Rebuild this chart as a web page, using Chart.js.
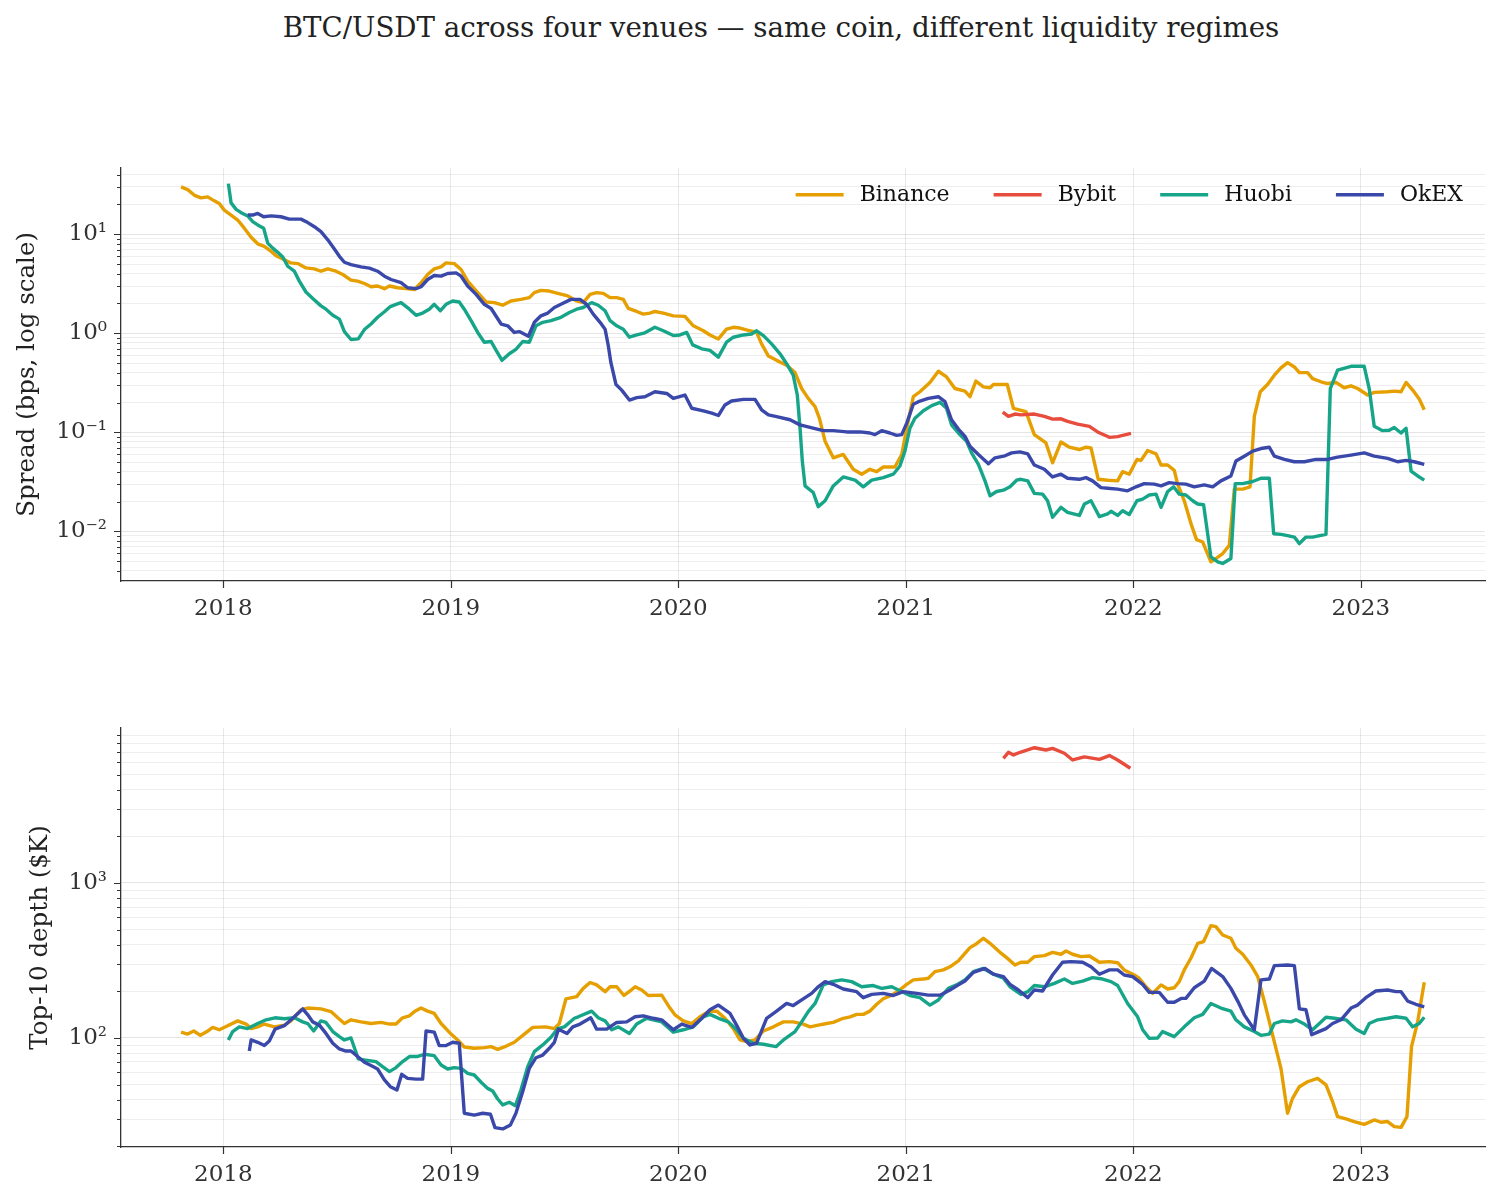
<!DOCTYPE html>
<html>
<head>
<meta charset="utf-8">
<script src="https://cdn.jsdelivr.net/npm/chart.js@4.4.1/dist/chart.umd.min.js"></script>
<style>
  body { margin: 0; background: #fff; overflow: hidden; }
  #page { position: relative; width: 1500px; height: 1203px; font-family: 'DejaVu Serif', serif; }
  #title { position: absolute; top: 12px; left: 131px; width: 1300px; line-height: 32px; text-align: center; font-size: 27.7px; color: #222; }
  canvas { position: absolute; left: 0; }
</style>
</head>
<body>
<div id="page">
  <div id="title">BTC/USDT across four venues — same coin, different liquidity regimes</div>
  <canvas id="spreadChart" width="1500" height="500" style="top:140px"></canvas>
  <canvas id="depthChart" width="1500" height="513" style="top:690px"></canvas>
</div>
<script>
// venues, in legend order
var venues = ['Binance', 'Bybit', 'Huobi', 'OkEX'];
var colors = ['#E69F00', '#E74C3C', '#17A589', '#3A48AA'];
var years = [2018, 2019, 2020, 2021, 2022, 2023];

// ---- spread (bps), x in decimal years ----
var spreadBinanceT = [2017.814,2017.843,2017.873,2017.902,2017.931,2017.960,2017.982,2018.004,2018.034,2018.063,2018.092,2018.122,2018.151,2018.180,2018.210,2018.232,2018.268,2018.297,2018.327,2018.363,2018.400,2018.429,2018.459,2018.495,2018.525,2018.561,2018.590,2018.620,2018.649,2018.678,2018.708,2018.730,2018.766,2018.803,2018.840,2018.869,2018.898,2018.927,2018.957,2018.979,2019.015,2019.045,2019.074,2019.118,2019.155,2019.191,2019.228,2019.264,2019.308,2019.345,2019.367,2019.396,2019.433,2019.470,2019.514,2019.553,2019.582,2019.612,2019.641,2019.670,2019.700,2019.729,2019.758,2019.780,2019.817,2019.846,2019.875,2019.897,2019.934,2019.978,2020.029,2020.066,2020.110,2020.139,2020.176,2020.212,2020.242,2020.271,2020.315,2020.344,2020.366,2020.396,2020.432,2020.476,2020.513,2020.542,2020.571,2020.601,2020.620,2020.645,2020.681,2020.725,2020.769,2020.806,2020.842,2020.872,2020.901,2020.952,2020.982,2021.004,2021.033,2021.062,2021.106,2021.143,2021.179,2021.216,2021.260,2021.282,2021.308,2021.341,2021.370,2021.385,2021.446,2021.473,2021.528,2021.565,2021.616,2021.645,2021.682,2021.719,2021.763,2021.792,2021.814,2021.846,2021.887,2021.931,2021.953,2021.982,2022.016,2022.034,2022.063,2022.100,2022.122,2022.151,2022.180,2022.195,2022.224,2022.256,2022.278,2022.305,2022.341,2022.363,2022.393,2022.422,2022.444,2022.481,2022.513,2022.532,2022.558,2022.590,2022.620,2022.649,2022.678,2022.708,2022.730,2022.766,2022.788,2022.825,2022.854,2022.891,2022.927,2022.957,2022.986,2023.030,2023.059,2023.118,2023.147,2023.177,2023.199,2023.228,2023.257,2023.279];
var spreadBinance = [30.0,28.2,24.7,23.3,23.8,21.7,20.4,17.5,15.6,13.9,11.5,9.33,8.0,7.53,6.71,6.07,5.53,5.13,5.05,4.57,4.47,4.23,4.47,4.23,3.92,3.44,3.36,3.18,2.95,3.0,2.82,3.0,2.88,2.82,2.77,3.24,3.92,4.47,4.68,5.13,5.05,4.40,3.36,2.57,2.07,2.04,1.92,2.12,2.20,2.29,2.57,2.71,2.67,2.53,2.38,2.12,2.04,2.47,2.57,2.53,2.29,2.29,2.20,1.78,1.66,1.56,1.60,1.66,1.60,1.50,1.48,1.19,1.06,0.962,0.877,1.10,1.15,1.13,1.06,1.02,0.782,0.589,0.533,0.475,0.401,0.277,0.220,0.182,0.139,0.0813,0.0553,0.0598,0.0424,0.0378,0.0424,0.0401,0.0447,0.0447,0.0598,0.110,0.229,0.257,0.319,0.414,0.363,0.277,0.261,0.229,0.329,0.288,0.282,0.304,0.304,0.175,0.162,0.0948,0.0782,0.0493,0.080,0.0708,0.0671,0.0708,0.0697,0.0336,0.0329,0.0324,0.0401,0.0378,0.0533,0.0521,0.0656,0.0607,0.0468,0.0468,0.0414,0.030,0.0204,0.0115,0.00826,0.00782,0.00493,0.00533,0.00598,0.00724,0.0267,0.0267,0.0282,0.145,0.257,0.304,0.378,0.447,0.505,0.457,0.401,0.401,0.349,0.324,0.311,0.319,0.282,0.295,0.277,0.238,0.253,0.257,0.261,0.257,0.319,0.267,0.217,0.169];

var spreadBybitT = [2021.426,2021.451,2021.480,2021.506,2021.565,2021.609,2021.645,2021.682,2021.711,2021.755,2021.807,2021.843,2021.895,2021.931,2021.990];
var spreadBybit = [0.160,0.145,0.153,0.150,0.153,0.145,0.136,0.137,0.129,0.121,0.115,0.101,0.0891,0.0906,0.0977];

var spreadHuobiT = [2018.022,2018.034,2018.056,2018.078,2018.107,2018.129,2018.151,2018.177,2018.195,2018.217,2018.239,2018.261,2018.283,2018.312,2018.334,2018.363,2018.393,2018.429,2018.451,2018.481,2018.510,2018.532,2018.561,2018.593,2018.620,2018.649,2018.678,2018.708,2018.734,2018.759,2018.781,2018.818,2018.847,2018.876,2018.905,2018.927,2018.954,2018.979,2019.008,2019.037,2019.059,2019.089,2019.118,2019.147,2019.177,2019.199,2019.225,2019.257,2019.286,2019.316,2019.345,2019.374,2019.404,2019.440,2019.484,2019.521,2019.553,2019.582,2019.619,2019.648,2019.678,2019.700,2019.729,2019.758,2019.785,2019.817,2019.853,2019.897,2019.934,2019.978,2020.007,2020.037,2020.063,2020.103,2020.139,2020.176,2020.212,2020.242,2020.286,2020.322,2020.344,2020.374,2020.410,2020.447,2020.476,2020.505,2020.523,2020.535,2020.545,2020.557,2020.593,2020.615,2020.645,2020.681,2020.725,2020.777,2020.813,2020.850,2020.901,2020.945,2020.974,2020.996,2021.018,2021.040,2021.077,2021.114,2021.150,2021.179,2021.201,2021.231,2021.267,2021.289,2021.319,2021.348,2021.370,2021.399,2021.429,2021.458,2021.487,2021.506,2021.536,2021.565,2021.601,2021.623,2021.645,2021.682,2021.711,2021.763,2021.785,2021.814,2021.851,2021.887,2021.902,2021.931,2021.953,2021.982,2022.016,2022.041,2022.070,2022.100,2022.122,2022.151,2022.177,2022.202,2022.231,2022.261,2022.283,2022.309,2022.341,2022.371,2022.393,2022.429,2022.448,2022.481,2022.525,2022.561,2022.598,2022.617,2022.649,2022.678,2022.708,2022.730,2022.759,2022.788,2022.847,2022.866,2022.898,2022.957,2023.015,2023.037,2023.059,2023.096,2023.125,2023.147,2023.177,2023.199,2023.221,2023.250,2023.279];
var spreadHuobi = [32.4,20.7,17.8,16.5,15.3,13.4,12.4,11.5,8.13,7.24,6.56,5.89,4.75,4.23,3.36,2.61,2.24,1.89,1.75,1.52,1.39,1.04,0.865,0.877,1.09,1.24,1.45,1.65,1.86,1.96,2.04,1.75,1.52,1.60,1.75,1.96,1.69,1.96,2.12,2.07,1.75,1.34,1.02,0.813,0.826,0.671,0.533,0.621,0.687,0.826,0.813,1.19,1.29,1.34,1.45,1.62,1.75,1.82,2.04,1.92,1.69,1.34,1.19,1.10,0.912,0.962,1.01,1.15,1.06,0.948,0.962,1.02,0.764,0.697,0.671,0.575,0.813,0.912,0.962,0.984,1.06,0.948,0.782,0.621,0.493,0.378,0.238,0.110,0.0513,0.0288,0.0247,0.0178,0.0204,0.0288,0.0355,0.0329,0.0282,0.0329,0.0349,0.0378,0.0457,0.0646,0.110,0.139,0.165,0.186,0.201,0.175,0.119,0.0985,0.0813,0.0621,0.0475,0.0324,0.0229,0.0253,0.0261,0.0282,0.0329,0.0336,0.0324,0.0242,0.0238,0.0204,0.0139,0.0175,0.0156,0.0145,0.0189,0.0204,0.0141,0.0150,0.0160,0.0145,0.0162,0.0148,0.0204,0.0212,0.0233,0.0238,0.0175,0.0253,0.0282,0.0238,0.0233,0.0204,0.0189,0.0186,0.00553,0.00493,0.00475,0.00533,0.0304,0.0304,0.0319,0.0344,0.0344,0.00948,0.00933,0.00906,0.00877,0.00753,0.00877,0.00877,0.00933,0.277,0.424,0.464,0.464,0.277,0.115,0.104,0.105,0.112,0.0985,0.110,0.0407,0.0363,0.0329];

var spreadOkexT = [2018.107,2018.129,2018.151,2018.177,2018.210,2018.253,2018.290,2018.341,2018.371,2018.400,2018.429,2018.459,2018.488,2018.510,2018.532,2018.561,2018.605,2018.642,2018.678,2018.708,2018.737,2018.781,2018.810,2018.847,2018.869,2018.898,2018.927,2018.957,2018.986,2019.023,2019.045,2019.074,2019.111,2019.147,2019.177,2019.221,2019.250,2019.279,2019.301,2019.341,2019.367,2019.396,2019.426,2019.455,2019.484,2019.528,2019.568,2019.597,2019.626,2019.656,2019.678,2019.692,2019.703,2019.726,2019.751,2019.785,2019.817,2019.853,2019.897,2019.949,2019.978,2020.029,2020.059,2020.110,2020.147,2020.176,2020.205,2020.234,2020.286,2020.337,2020.366,2020.396,2020.432,2020.491,2020.535,2020.579,2020.637,2020.681,2020.740,2020.799,2020.842,2020.864,2020.894,2020.930,2020.960,2020.982,2021.004,2021.033,2021.062,2021.099,2021.143,2021.172,2021.201,2021.231,2021.260,2021.282,2021.319,2021.363,2021.392,2021.436,2021.465,2021.502,2021.536,2021.565,2021.609,2021.645,2021.682,2021.711,2021.763,2021.792,2021.821,2021.858,2021.887,2021.931,2021.975,2022.012,2022.048,2022.092,2022.122,2022.158,2022.195,2022.231,2022.268,2022.312,2022.349,2022.385,2022.429,2022.451,2022.488,2022.525,2022.561,2022.598,2022.620,2022.664,2022.708,2022.752,2022.803,2022.854,2022.898,2022.957,2023.015,2023.059,2023.118,2023.162,2023.199,2023.235,2023.279];
var spreadOkex = [15.6,15.6,16.2,15.0,15.3,15.0,14.2,14.2,13.1,11.9,10.6,8.78,7.08,5.98,5.21,4.93,4.68,4.54,4.23,3.77,3.49,3.24,2.88,2.82,2.95,3.49,3.83,3.77,4.01,4.07,3.77,3.0,2.47,1.96,1.78,1.24,1.19,1.02,1.04,0.933,1.29,1.50,1.60,1.82,1.96,2.20,2.20,1.96,1.56,1.29,1.10,0.753,0.513,0.304,0.267,0.212,0.224,0.229,0.257,0.247,0.220,0.238,0.175,0.165,0.156,0.148,0.189,0.207,0.215,0.215,0.169,0.150,0.144,0.134,0.119,0.112,0.104,0.104,0.101,0.101,0.0985,0.0948,0.104,0.0985,0.0933,0.0948,0.124,0.192,0.207,0.220,0.229,0.204,0.134,0.108,0.0912,0.0724,0.0598,0.0482,0.0553,0.058,0.0621,0.0636,0.0607,0.0468,0.0424,0.0355,0.0378,0.0344,0.0336,0.0349,0.0324,0.0277,0.0273,0.0267,0.0257,0.0282,0.0304,0.030,0.0288,0.0311,0.0304,0.030,0.0282,0.0295,0.0282,0.0324,0.0363,0.0513,0.0575,0.0646,0.0687,0.0708,0.0575,0.0533,0.0505,0.0505,0.0533,0.0533,0.0562,0.0589,0.0621,0.0575,0.0546,0.0505,0.0521,0.0505,0.0475];

// ---- top-10 depth ($K) ----
var depthBinanceT = [2017.814,2017.843,2017.870,2017.899,2017.928,2017.953,2017.982,2018.019,2018.063,2018.100,2018.122,2018.151,2018.180,2018.224,2018.268,2018.297,2018.341,2018.371,2018.429,2018.473,2018.503,2018.532,2018.561,2018.605,2018.649,2018.693,2018.730,2018.759,2018.788,2018.818,2018.840,2018.869,2018.898,2018.927,2018.957,2019.001,2019.030,2019.059,2019.103,2019.147,2019.177,2019.206,2019.235,2019.279,2019.323,2019.360,2019.418,2019.455,2019.477,2019.506,2019.553,2019.582,2019.612,2019.641,2019.678,2019.700,2019.729,2019.761,2019.788,2019.810,2019.839,2019.868,2019.927,2019.963,2019.985,2020.022,2020.059,2020.095,2020.132,2020.169,2020.205,2020.242,2020.271,2020.300,2020.337,2020.374,2020.418,2020.462,2020.505,2020.549,2020.579,2020.615,2020.652,2020.681,2020.725,2020.755,2020.784,2020.813,2020.842,2020.872,2020.901,2020.938,2020.967,2021.004,2021.033,2021.077,2021.099,2021.128,2021.165,2021.194,2021.231,2021.282,2021.311,2021.341,2021.370,2021.414,2021.443,2021.480,2021.506,2021.536,2021.565,2021.609,2021.645,2021.682,2021.704,2021.733,2021.770,2021.807,2021.851,2021.895,2021.931,2021.960,2022.004,2022.026,2022.056,2022.085,2022.122,2022.151,2022.180,2022.202,2022.224,2022.253,2022.283,2022.309,2022.341,2022.363,2022.393,2022.429,2022.451,2022.481,2022.517,2022.547,2022.576,2022.612,2022.649,2022.678,2022.700,2022.730,2022.766,2022.810,2022.847,2022.876,2022.898,2022.935,2022.971,2023.015,2023.059,2023.089,2023.118,2023.147,2023.177,2023.203,2023.223,2023.250,2023.279];
var depthBinance = [109,106,111,104,110,117,113,120,129,123,115,118,123,118,121,129,152,156,154,148,135,124,131,127,124,126,123,123,135,139,148,156,149,144,124,106,97.1,87.5,85.8,86.7,87.9,84.5,87.5,93.8,106,117,118,115,124,179,185,209,228,220,199,214,214,188,201,214,204,188,189,156,141,129,124,137,148,149,134,115,97.1,94.6,97.1,111,118,127,127,123,118,121,124,126,134,137,142,142,149,165,179,189,201,222,237,240,243,268,275,288,314,383,406,440,408,357,330,296,308,308,335,340,357,347,364,347,335,338,308,311,306,275,255,243,214,194,220,207,211,231,275,327,408,419,531,523,462,440,379,347,296,249,172,105,63.7,32.7,40.8,48.5,52.2,54.9,49.8,38.8,31.1,30.1,28.9,27.7,29.6,28.6,28.9,26.8,26.5,31.1,87.9,127,229];

var depthBybitT = [2021.429,2021.451,2021.473,2021.506,2021.565,2021.616,2021.645,2021.697,2021.733,2021.785,2021.851,2021.895,2021.931,2021.987];
var depthBybit = [6370,6970,6700,7000,7460,7210,7390,6870,6220,6510,6280,6640,6220,5500];

var depthHuobiT = [2018.022,2018.041,2018.070,2018.107,2018.151,2018.188,2018.227,2018.268,2018.312,2018.349,2018.371,2018.397,2018.429,2018.451,2018.481,2018.510,2018.532,2018.561,2018.593,2018.620,2018.671,2018.700,2018.730,2018.759,2018.788,2018.818,2018.851,2018.884,2018.927,2018.957,2018.986,2019.015,2019.045,2019.074,2019.103,2019.133,2019.162,2019.184,2019.206,2019.228,2019.257,2019.284,2019.308,2019.338,2019.367,2019.404,2019.440,2019.470,2019.499,2019.543,2019.560,2019.619,2019.648,2019.678,2019.707,2019.736,2019.785,2019.817,2019.861,2019.927,2019.978,2020.022,2020.066,2020.110,2020.139,2020.176,2020.220,2020.256,2020.286,2020.330,2020.374,2020.429,2020.462,2020.513,2020.542,2020.571,2020.601,2020.637,2020.674,2020.718,2020.762,2020.806,2020.857,2020.894,2020.938,2020.967,2021.018,2021.062,2021.106,2021.143,2021.187,2021.223,2021.260,2021.297,2021.341,2021.385,2021.429,2021.458,2021.506,2021.536,2021.565,2021.609,2021.653,2021.697,2021.733,2021.777,2021.821,2021.865,2021.902,2021.931,2021.975,2022.019,2022.041,2022.070,2022.107,2022.129,2022.180,2022.224,2022.268,2022.305,2022.341,2022.385,2022.429,2022.451,2022.488,2022.532,2022.561,2022.598,2022.620,2022.656,2022.693,2022.715,2022.752,2022.788,2022.818,2022.847,2022.884,2022.935,2022.979,2023.015,2023.037,2023.074,2023.118,2023.155,2023.199,2023.228,2023.257,2023.279];
var depthHuobi = [97.1,110,118,115,124,131,135,133,135,127,124,111,129,126,110,102,97.1,100,73.3,72.1,70.4,65.3,60.7,64.4,70.4,75.9,75.9,78.5,76.9,67.0,63.1,64.4,63.7,59.2,57.7,51.8,47.3,45.5,40.4,37.0,38.5,36.6,46.2,65.3,81.7,90.2,101,115,118,134,137,149,135,129,113,118,107,123,134,127,109,113,118,137,142,134,127,113,99.5,92.5,91.1,87.9,97.1,110,127,148,167,220,231,237,231,214,218,209,214,204,188,182,163,176,209,220,237,268,281,258,243,214,191,199,218,214,225,240,225,233,245,240,231,218,167,137,113,99.5,100,110,102,118,135,142,167,156,149,131,118,110,104,106,124,129,127,131,123,113,124,136,134,131,114,107,124,131,134,137,134,118,124,136];

var depthOkexT = [2018.114,2018.122,2018.151,2018.180,2018.202,2018.227,2018.268,2018.305,2018.349,2018.371,2018.393,2018.422,2018.451,2018.481,2018.510,2018.539,2018.561,2018.590,2018.620,2018.649,2018.678,2018.708,2018.734,2018.763,2018.784,2018.810,2018.847,2018.876,2018.891,2018.927,2018.949,2018.979,2019.008,2019.037,2019.059,2019.103,2019.140,2019.174,2019.194,2019.228,2019.262,2019.286,2019.316,2019.345,2019.374,2019.404,2019.433,2019.455,2019.473,2019.511,2019.536,2019.568,2019.615,2019.641,2019.685,2019.729,2019.773,2019.810,2019.846,2019.890,2019.927,2019.978,2020.015,2020.059,2020.103,2020.139,2020.176,2020.227,2020.256,2020.286,2020.315,2020.344,2020.388,2020.432,2020.476,2020.505,2020.549,2020.586,2020.615,2020.645,2020.681,2020.725,2020.784,2020.813,2020.850,2020.901,2020.945,2020.989,2021.048,2021.099,2021.150,2021.194,2021.231,2021.260,2021.297,2021.348,2021.385,2021.429,2021.458,2021.495,2021.536,2021.565,2021.601,2021.645,2021.689,2021.726,2021.777,2021.814,2021.851,2021.895,2021.931,2021.960,2021.997,2022.041,2022.070,2022.114,2022.151,2022.180,2022.210,2022.231,2022.268,2022.312,2022.344,2022.393,2022.429,2022.459,2022.488,2022.532,2022.561,2022.598,2022.620,2022.678,2022.708,2022.730,2022.759,2022.784,2022.810,2022.847,2022.876,2022.913,2022.957,2022.986,2023.022,2023.066,2023.118,2023.155,2023.177,2023.206,2023.242,2023.279];
var depthOkex = [82.4,97.1,93.8,89.3,95.7,114,120,134,154,141,127,121,107,92.5,85.0,82.4,82.4,75.9,69.7,66.4,63.1,53.6,48.5,46.2,58.3,54.9,54.3,54.3,111,109,89.3,89.3,93.8,92.5,32.7,31.8,32.7,32.2,26.4,25.9,27.5,32.7,45.1,63.7,74.6,77.6,85.8,93.8,114,107,118,123,135,114,114,126,127,137,139,134,131,113,123,117,134,152,163,144,121,99.5,90.2,92.5,134,149,167,162,179,194,214,231,222,207,199,182,191,194,188,199,194,189,189,204,220,233,265,281,258,249,222,204,182,204,201,255,308,311,308,288,258,275,275,255,249,222,197,197,170,170,180,180,211,233,281,249,209,173,141,113,237,240,293,296,293,154,152,105,109,115,124,131,156,163,182,201,204,199,199,173,165,159];

var spreadTimes = [spreadBinanceT, spreadBybitT, spreadHuobiT, spreadOkexT];
var spreadValues = [spreadBinance, spreadBybit, spreadHuobi, spreadOkex];
var depthTimes = [depthBinanceT, depthBybitT, depthHuobiT, depthOkexT];
var depthValues = [depthBinance, depthBybit, depthHuobi, depthOkex];

var X_MIN = 2017.55, X_MAX = 2023.546;
var FONT = "'DejaVu Serif', serif";
var LINE_W = 3.4;

function isDecade(v) {
  var l = Math.log10(v);
  return Math.abs(l - Math.round(l)) < 1e-6;
}

function supText(n) {
  var map = {'-': '\u207B', '0': '\u2070', '1': '\u00B9', '2': '\u00B2', '3': '\u00B3', '4': '\u2074', '5': '\u2075', '6': '\u2076', '7': '\u2077', '8': '\u2078', '9': '\u2079'};
  return String(n).split('').map(function (c) { return map[c]; }).join('');
}

// log ticks 1..9 x 10^e kept inside [lo, hi]
function logTicks(lo, hi) {
  var out = [];
  for (var e = -4; e <= 4; e++) {
    for (var m = 1; m <= 9; m++) {
      var v = +(m * Math.pow(10, e)).toPrecision(3);
      if (v > lo * 1.001 && v < hi * 0.999) out.push(v);
    }
  }
  return out;
}

function makeDatasets(times, values) {
  return venues.map(function (name, i) {
    return {
      label: name,
      data: times[i].map(function (t, k) { return {x: t, y: values[i][k]}; }),
      borderColor: colors[i],
      backgroundColor: colors[i],
      borderWidth: LINE_W,
      borderJoinStyle: 'round',
      pointRadius: 0,
      tension: 0,
      fill: false,
      order: venues.length - i
    };
  });
}

// tick marks on the spines (major ones longer)
var spineTicks = {
  id: 'spineTicks',
  afterDraw: function (chart) {
    var ctx = chart.ctx, area = chart.chartArea, sx = chart.scales.x, sy = chart.scales.y;
    ctx.save();
    ctx.strokeStyle = '#333';
    ctx.lineWidth = 1.2;
    ctx.beginPath();
    sy.ticks.forEach(function (t) {
      var py = Math.round(sy.getPixelForValue(t.value)) + 0.5;
      var len = isDecade(t.value) ? 7 : 4;
      ctx.moveTo(area.left, py);
      ctx.lineTo(area.left - len, py);
    });
    sx.ticks.forEach(function (t) {
      var px = Math.round(sx.getPixelForValue(t.value)) + 0.5;
      ctx.moveTo(px, area.bottom);
      ctx.lineTo(px, area.bottom + 7);
    });
    ctx.stroke();
    ctx.restore();
  }
};

// legend drawn inside the plot, top right, no frame
var insideLegend = {
  id: 'insideLegend',
  afterDraw: function (chart, args, opts) {
    if (!opts || !opts.show) return;
    var ctx = chart.ctx, area = chart.chartArea;
    ctx.save();
    ctx.font = '22px ' + FONT;
    var sample = 48, gapText = 16, gapItem = 44;
    var items = chart.data.datasets.map(function (ds) {
      return {text: ds.label, color: ds.borderColor, w: ctx.measureText(ds.label).width};
    });
    var total = gapItem * (items.length - 1);
    items.forEach(function (it) { total += sample + gapText + it.w; });
    var x = area.right - 22 - total;
    var y = area.top + 27;
    ctx.textBaseline = 'middle';
    items.forEach(function (it) {
      ctx.strokeStyle = it.color;
      ctx.lineWidth = LINE_W;
      ctx.beginPath();
      ctx.moveTo(x, y);
      ctx.lineTo(x + sample, y);
      ctx.stroke();
      ctx.fillStyle = '#111';
      ctx.fillText(it.text, x + sample + gapText, y);
      x += sample + gapText + it.w + gapItem;
    });
    ctx.restore();
  }
};

function panelOptions(cfg) {
  var yTicks = logTicks(cfg.yMin, cfg.yMax);
  return {
    responsive: false,
    animation: false,
    parsing: false,
    layout: {padding: {top: cfg.padTop, right: 15, left: 0, bottom: 0}},
    plugins: {
      legend: {display: false},
      tooltip: {enabled: false},
      insideLegend: {show: cfg.legend}
    },
    scales: {
      x: {
        type: 'linear',
        bounds: 'data',
        min: X_MIN,
        max: X_MAX,
        afterBuildTicks: function (s) { s.ticks = years.map(function (v) { return {value: v}; }); },
        afterFit: function (s) { s.height = cfg.xHeight; },
        ticks: {
          autoSkip: false,
          maxRotation: 0,
          padding: 14,
          color: '#333',
          font: {family: FONT, size: 23},
          callback: function (v) { return String(v); }
        },
        grid: {color: 'rgba(0,0,0,0.09)', lineWidth: 1, drawTicks: false},
        border: {display: true, color: '#333', width: 1.3}
      },
      y: {
        type: 'logarithmic',
        bounds: 'data',
        min: cfg.yMin,
        max: cfg.yMax,
        afterBuildTicks: function (s) { s.ticks = yTicks.map(function (v) { return {value: v}; }); },
        afterFit: function (s) { s.width = 121; },
        ticks: {
          autoSkip: false,
          padding: 14,
          color: '#333',
          font: {family: FONT, size: 23},
          callback: function (v) {
            return isDecade(v) ? '10' + supText(Math.round(Math.log10(v))) : '';
          }
        },
        grid: {
          color: function (c) { return c.tick && isDecade(c.tick.value) ? 'rgba(0,0,0,0.10)' : 'rgba(0,0,0,0.065)'; },
          lineWidth: 1,
          drawTicks: false
        },
        border: {display: true, color: '#333', width: 1.3},
        title: {
          display: true,
          text: cfg.yTitle,
          color: '#222',
          font: {family: FONT, size: 24.5},
          padding: {top: cfg.titlePad, bottom: 0}
        }
      }
    }
  };
}

var spreadChart = new Chart(document.getElementById('spreadChart').getContext('2d'), {
  type: 'line',
  data: {datasets: makeDatasets(spreadTimes, spreadValues)},
  options: panelOptions({yMin: 0.00316, yMax: 46.8, padTop: 24, xHeight: 59, yTitle: 'Spread (bps, log scale)', titlePad: 12.5, legend: true}),
  plugins: [spineTicks, insideLegend]
});

var depthChart = new Chart(document.getElementById('depthChart').getContext('2d'), {
  type: 'line',
  data: {datasets: makeDatasets(depthTimes, depthValues)},
  options: panelOptions({yMin: 19.8, yMax: 10000, padTop: 38, xHeight: 56, yTitle: 'Top-10 depth ($K)', titlePad: 25.5, legend: false}),
  plugins: [spineTicks]
});
</script>
</body>
</html>
